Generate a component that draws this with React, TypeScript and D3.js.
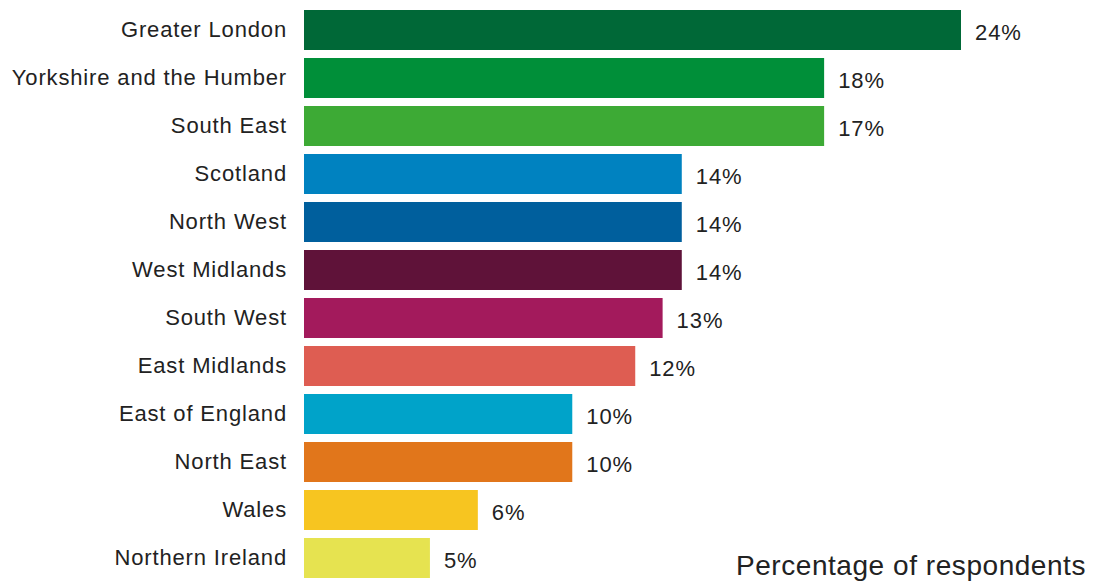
import React from "react";
import * as d3 from "d3";

const categories = [
  "Greater London",
  "Yorkshire and the Humber",
  "South East",
  "Scotland",
  "North West",
  "West Midlands",
  "South West",
  "East Midlands",
  "East of England",
  "North East",
  "Wales",
  "Northern Ireland",
];
// bar lengths as drawn in the reference (percent)
const values = [24, 19, 19, 13.8, 13.8, 13.8, 13.1, 12.1, 9.8, 9.8, 6.35, 4.6];
const valueLabels = ["24%", "18%", "17%", "14%", "14%", "14%", "13%", "12%", "10%", "10%", "6%", "5%"];
const colors = [
  "#006837",
  "#008f39",
  "#3daa35",
  "#0082c0",
  "#005f9d",
  "#5f1239",
  "#a31a5c",
  "#de5d52",
  "#00a3c9",
  "#e1761b",
  "#f7c520",
  "#e6e350",
];
const axisTitle = "Percentage of respondents";

const W = 1097;
const H = 581;
const FONT = "'Liberation Sans', Arial, Helvetica, sans-serif";

export default function App() {
  const x = d3.scaleLinear().domain([0, 24]).range([304, 961]);
  const y = d3
    .scaleBand<string>()
    .domain(categories)
    .range([6, 582])
    .paddingInner(1 / 6)
    .paddingOuter(1 / 12);
  const bw = y.bandwidth();

  return (
    <svg
      width={W}
      height={H}
      style={{ position: "absolute", left: 0, top: 0, background: "#fff" }}
      fontFamily={FONT}
    >
      {categories.map((c, i) => {
        const y0 = y(c)!;
        const cy = y0 + bw / 2;
        return (
          <g key={c}>
            <rect x={x(0)} y={y0} width={x(values[i]) - x(0)} height={bw} fill={colors[i]} />
            <text
              x={287}
              y={cy - 1}
              textAnchor="end"
              dominantBaseline="central"
              fontSize={22}
              letterSpacing={0.85}
              fill="#222"
            >
              {c}
            </text>
            <text
              x={x(values[i]) + 14}
              y={cy + 2}
              dominantBaseline="central"
              fontSize={22}
              letterSpacing={0.9}
              fill="#222"
            >
              {valueLabels[i]}
            </text>
          </g>
        );
      })}
      <text x={1086} y={575} textAnchor="end" fontSize={28} letterSpacing={0.55} fill="#222">
        {axisTitle}
      </text>
    </svg>
  );
}
